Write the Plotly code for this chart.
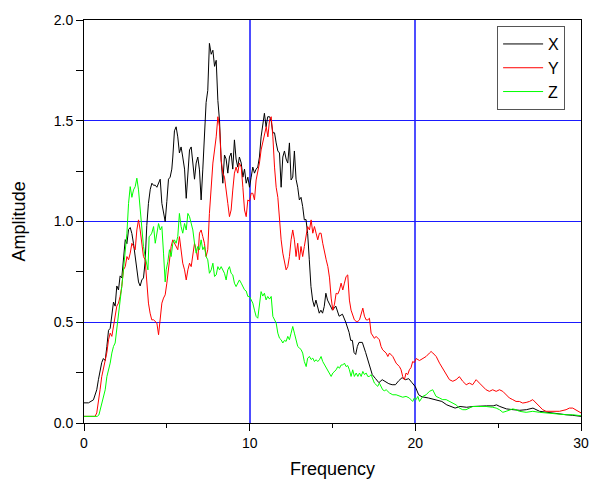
import plotly.graph_objects as go

# ---------------- data ----------------
x_freq = [0, 0.27, 0.57, 0.77, 0.87, 1.07, 1.17, 1.28, 1.38, 1.48, 1.58, 1.68, 1.78, 1.88, 1.98,
          2.08, 2.18, 2.28, 2.38, 2.49, 2.59, 2.69, 2.79, 2.89, 2.99, 3.09, 3.19, 3.29, 3.39, 3.49,
          3.59, 3.69, 3.79, 3.89, 4.0, 4.1, 4.19, 4.3, 4.4, 4.5, 4.6, 4.7, 4.8, 4.9, 5.0, 5.1, 5.2,
          5.3, 5.36, 5.46, 5.56, 5.66, 5.76, 5.86, 5.96, 6.07, 6.17, 6.27, 6.37, 6.47, 6.57, 6.67,
          6.77, 6.87, 6.97, 7.07, 7.17, 7.27, 7.37, 7.47, 7.57, 7.68, 7.78, 7.88, 7.98, 8.08, 8.18,
          8.28, 8.38, 8.48, 8.58, 8.68, 8.78, 8.88, 8.98, 9.08, 9.18, 9.28, 9.38, 9.49, 9.59, 9.69,
          9.79, 9.89, 9.99, 10.09, 10.19, 10.29, 10.39, 10.49, 10.59, 10.69, 10.79, 10.89, 10.99,
          11.09, 11.2, 11.3, 11.4, 11.5, 11.6, 11.7, 11.8, 11.9, 12.0, 12.1, 12.2, 12.3, 12.4, 12.5,
          12.6, 12.7, 12.8, 12.9, 13.0, 13.1, 13.2, 13.3, 13.4, 13.5, 13.6, 13.7, 13.8, 13.9, 14.0,
          14.1, 14.2, 14.3, 14.4, 14.5, 14.6, 14.7, 14.8, 14.9, 15.0, 15.2, 15.4, 15.6, 15.8, 16.0,
          16.1, 16.2, 16.3, 16.4, 16.5, 16.6, 16.8, 17.0, 17.2, 17.4, 17.6, 17.8, 18.0, 18.2, 18.4,
          18.6, 18.8, 19.0, 19.2, 19.4, 19.6, 19.8, 20.0, 20.2, 20.4, 20.8, 21.2, 21.6, 21.9, 22.1,
          22.4, 22.7, 23.1, 23.5, 23.9, 24.3, 24.7, 24.9, 25.1, 25.5, 25.9, 26.3, 26.7, 27.1, 27.5,
          27.9, 28.3, 28.7, 29.1, 29.5, 30.0]
x_amp = [0.10, 0.10, 0.115, 0.165, 0.215, 0.30, 0.32, 0.31, 0.38, 0.46, 0.47, 0.545, 0.60, 0.58,
         0.68, 0.66, 0.73, 0.72, 0.81, 0.91, 0.89, 0.96, 0.97, 0.94, 0.89, 0.83, 0.75, 0.70, 0.68,
         0.71, 0.72, 0.80, 0.98, 1.09, 1.16, 1.19, 1.18, 1.18, 1.17, 1.19, 1.21, 1.09, 1.05, 1.00,
         1.10, 1.21, 1.22, 1.26, 1.32, 1.45, 1.47, 1.42, 1.34, 1.37, 1.32, 1.26, 1.115, 1.22, 1.355,
         1.37, 1.27, 1.21, 1.29, 1.32, 1.256, 1.107, 1.256, 1.42, 1.59, 1.65, 1.884, 1.83, 1.85,
         1.77, 1.80, 1.60, 1.50, 1.305, 1.19, 1.33, 1.31, 1.24, 1.32, 1.34, 1.26, 1.405, 1.31, 1.27,
         1.32, 1.29, 1.22, 1.26, 1.19, 1.22, 1.17, 1.22, 1.27, 1.24, 1.26, 1.27, 1.32, 1.42, 1.487,
         1.537, 1.47, 1.52, 1.52, 1.50, 1.44, 1.44, 1.39, 1.35, 1.34, 1.17, 1.32, 1.35, 1.31, 1.29,
         1.39, 1.206, 1.22, 1.35, 1.21, 1.17, 1.107, 1.12, 1.074, 1.008, 1.01, 0.94, 0.81, 0.677,
         0.61, 0.578, 0.61, 0.578, 0.545, 0.56, 0.545, 0.578, 0.644, 0.61, 0.595, 0.58, 0.56, 0.58,
         0.53, 0.54, 0.50, 0.45, 0.41, 0.41, 0.35, 0.34, 0.38, 0.40, 0.40, 0.35, 0.30, 0.24, 0.22,
         0.20, 0.215, 0.205, 0.195, 0.19, 0.19, 0.21, 0.225, 0.215, 0.22, 0.20, 0.18, 0.14, 0.13,
         0.124, 0.116, 0.107, 0.09, 0.082, 0.074, 0.082, 0.078, 0.082, 0.085, 0.085, 0.085, 0.09,
         0.082, 0.07, 0.066, 0.063, 0.066, 0.074, 0.058, 0.053, 0.05, 0.046, 0.041, 0.038, 0.033]

y_freq = [0, 0.67, 0.77, 0.87, 0.97, 1.07, 1.17, 1.28, 1.38, 1.48, 1.58, 1.68, 1.78, 1.88, 1.98,
          2.08, 2.18, 2.28, 2.38, 2.49, 2.59, 2.69, 2.79, 2.89, 2.99, 3.09, 3.19, 3.29, 3.39, 3.49,
          3.59, 3.69, 3.79, 3.89, 3.99, 4.09, 4.2, 4.3, 4.4, 4.5, 4.6, 4.7, 4.8, 4.9, 5.0, 5.1, 5.16,
          5.26, 5.36, 5.46, 5.56, 5.66, 5.76, 5.86, 5.96, 6.07, 6.17, 6.27, 6.37, 6.47, 6.57, 6.67,
          6.77, 6.87, 6.97, 7.07, 7.17, 7.27, 7.37, 7.47, 7.57, 7.68, 7.78, 7.88, 7.98, 8.08, 8.18,
          8.28, 8.38, 8.48, 8.58, 8.68, 8.78, 8.88, 8.98, 9.08, 9.18, 9.28, 9.38, 9.49, 9.59, 9.69,
          9.79, 9.89, 9.99, 10.09, 10.19, 10.29, 10.39, 10.49, 10.59, 10.69, 10.79, 10.89, 11.0,
          11.1, 11.2, 11.3, 11.4, 11.5, 11.6, 11.7, 11.8, 11.9, 12.0, 12.1, 12.2, 12.3, 12.4, 12.5,
          12.6, 12.7, 12.8, 12.9, 13.0, 13.1, 13.2, 13.3, 13.41, 13.5, 13.61, 13.71, 13.81, 13.91,
          14.01, 14.11, 14.21, 14.31, 14.41, 14.51, 14.62, 14.72, 14.82, 14.92, 15.02, 15.12, 15.22,
          15.32, 15.42, 15.52, 15.62, 15.72, 15.82, 15.92, 16.02, 16.12, 16.22, 16.32, 16.43, 16.53,
          16.63, 16.73, 16.83, 16.93, 17.03, 17.13, 17.23, 17.33, 17.43, 17.53, 17.63, 17.73, 17.83,
          17.93, 18.03, 18.24, 18.34, 18.44, 18.54, 18.64, 18.84, 19.04, 19.14, 19.24, 19.34, 19.44,
          19.54, 19.64, 19.74, 19.84, 19.94, 20.05, 20.25, 20.45, 20.65, 20.85, 20.95, 21.05, 21.26,
          21.46, 21.65, 21.86, 22.06, 22.26, 22.46, 22.66, 22.76, 22.86, 23.07, 23.26, 23.46, 23.67,
          23.87, 24.07, 24.27, 24.47, 24.67, 24.88, 25.08, 25.28, 25.48, 25.68, 25.88, 26.08, 26.28,
          26.48, 26.69, 26.89, 27.09, 27.29, 27.49, 27.69, 27.89, 28.29, 28.7, 29.1, 29.3, 29.5,
          29.7, 30.0]
y_amp = [0.033, 0.033, 0.05, 0.10, 0.165, 0.23, 0.265, 0.314, 0.35, 0.413, 0.446, 0.43, 0.48,
         0.529, 0.58, 0.595, 0.628, 0.677, 0.76, 0.776, 0.826, 0.81, 0.843, 0.892, 0.876, 0.86,
         0.958, 1.008, 0.958, 0.892, 0.826, 0.81, 0.71, 0.595, 0.545, 0.512, 0.512, 0.504, 0.496,
         0.438, 0.53, 0.595, 0.62, 0.636, 0.694, 0.76, 0.81, 0.876, 0.909, 0.892, 0.876, 0.86, 0.925,
         0.86, 0.793, 0.76, 0.71, 0.76, 0.793, 0.776, 0.826, 0.892, 0.86, 0.81, 0.942, 0.958, 0.925,
         0.892, 0.826, 0.86, 1.04, 1.19, 1.29, 1.355, 1.42, 1.52, 1.47, 1.305, 1.24, 1.22, 1.14,
         1.09, 1.024, 1.057, 1.156, 1.24, 1.27, 1.24, 1.29, 1.27, 1.17, 1.057, 1.024, 1.107, 1.10,
         1.14, 1.14, 1.107, 1.206, 1.24, 1.29, 1.355, 1.39, 1.44, 1.47, 1.42, 1.504, 1.52, 1.42,
         1.27, 1.17, 1.12, 1.008, 0.909, 0.843, 0.793, 0.76, 0.776, 0.826, 0.909, 0.958, 0.909,
         0.826, 0.892, 0.81, 0.876, 0.826, 0.876, 0.942, 0.975, 0.958, 1.008, 0.942, 0.975, 0.942,
         0.909, 0.942, 0.942, 0.892, 0.86, 0.81, 0.776, 0.72, 0.62, 0.56, 0.59, 0.644, 0.64, 0.66,
         0.694, 0.66, 0.694, 0.727, 0.735, 0.61, 0.56, 0.529, 0.512, 0.504, 0.504, 0.512, 0.545,
         0.57, 0.53, 0.512, 0.512, 0.52, 0.446, 0.43, 0.42, 0.43, 0.42, 0.413, 0.38, 0.363, 0.347,
         0.33, 0.347, 0.34, 0.33, 0.297, 0.28, 0.264, 0.23, 0.215, 0.248, 0.24, 0.264, 0.275, 0.305,
         0.30, 0.32, 0.31, 0.322, 0.33, 0.347, 0.355, 0.348, 0.33, 0.297, 0.272, 0.248, 0.215,
         0.207, 0.215, 0.23, 0.215, 0.207, 0.19, 0.198, 0.19, 0.215, 0.198, 0.182, 0.165, 0.157,
         0.165, 0.157, 0.165, 0.157, 0.14, 0.124, 0.116, 0.107, 0.107, 0.099, 0.102, 0.107, 0.116,
         0.099, 0.082, 0.066, 0.058, 0.058, 0.058, 0.066, 0.074, 0.074, 0.066, 0.05]

z_freq = [0, 0.8, 0.9, 0.97, 1.07, 1.18, 1.28, 1.38, 1.48, 1.58, 1.68, 1.78, 1.88, 1.98, 2.08,
          2.18, 2.28, 2.38, 2.49, 2.59, 2.69, 2.79, 2.89, 2.99, 3.09, 3.19, 3.29, 3.39, 3.49, 3.59,
          3.69, 3.79, 3.86, 3.93, 4.0, 4.09, 4.2, 4.3, 4.4, 4.5, 4.6, 4.7, 4.8, 4.9, 4.96, 5.06,
          5.16, 5.26, 5.36, 5.46, 5.56, 5.66, 5.76, 5.86, 5.96, 6.07, 6.17, 6.27, 6.37, 6.47, 6.57,
          6.67, 6.77, 6.87, 6.97, 7.07, 7.17, 7.27, 7.37, 7.47, 7.57, 7.68, 7.78, 7.88, 7.98, 8.08,
          8.18, 8.28, 8.38, 8.48, 8.58, 8.68, 8.78, 8.88, 8.98, 9.08, 9.18, 9.28, 9.38, 9.49, 9.59,
          9.69, 9.79, 9.89, 9.99, 10.09, 10.19, 10.29, 10.39, 10.49, 10.59, 10.69, 10.79, 10.89,
          10.99, 11.09, 11.2, 11.3, 11.4, 11.5, 11.6, 11.7, 11.8, 11.9, 12.0, 12.1, 12.2, 12.3, 12.4,
          12.5, 12.6, 12.7, 12.8, 12.9, 13.0, 13.1, 13.2, 13.3, 13.41, 13.5, 13.61, 13.71, 13.81,
          13.91, 14.01, 14.11, 14.21, 14.31, 14.41, 14.51, 14.62, 14.72, 14.82, 14.92, 15.02, 15.12,
          15.22, 15.32, 15.42, 15.52, 15.62, 15.72, 15.82, 15.92, 16.02, 16.12, 16.22, 16.32, 16.43,
          16.53, 16.63, 16.73, 16.83, 16.93, 17.03, 17.13, 17.23, 17.33, 17.43, 17.53, 17.63, 17.73,
          17.83, 17.93, 18.03, 18.13, 18.24, 18.44, 18.64, 18.84, 19.04, 19.24, 19.44, 19.64, 19.84,
          19.94, 20.05, 20.15, 20.25, 20.45, 20.65, 20.85, 21.05, 21.15, 21.25, 21.46, 21.65, 21.86,
          22.06, 22.26, 22.46, 22.66, 22.86, 23.06, 23.26, 23.46, 23.87, 24.27, 24.67, 24.88, 25.08,
          25.28, 25.48, 25.68, 25.88, 26.08, 26.28, 26.69, 27.09, 27.49, 27.89, 28.29, 28.7, 29.1,
          29.5, 30.0]
z_amp = [0.033, 0.033, 0.04, 0.066, 0.10, 0.132, 0.165, 0.23, 0.264, 0.297, 0.347, 0.38, 0.397,
         0.463, 0.529, 0.595, 0.677, 0.76, 0.86, 0.942, 1.09, 1.173, 1.12, 1.157, 1.173, 1.215,
         1.157, 1.058, 0.975, 0.876, 0.826, 0.776, 0.76, 0.925, 0.93, 0.942, 0.975, 0.892, 0.942,
         0.99, 0.958, 0.975, 0.843, 0.70, 0.76, 0.80, 0.86, 0.826, 0.892, 0.909, 0.892, 0.925, 1.04,
         0.975, 0.942, 0.99, 0.958, 1.04, 1.024, 0.99, 0.958, 0.892, 0.843, 0.876, 0.86, 0.909,
         0.86, 0.876, 0.826, 0.81, 0.743, 0.76, 0.793, 0.727, 0.735, 0.776, 0.76, 0.776, 0.76,
         0.743, 0.71, 0.76, 0.776, 0.743, 0.735, 0.694, 0.677, 0.694, 0.71, 0.694, 0.68, 0.661,
         0.655, 0.628, 0.628, 0.61, 0.595, 0.56, 0.529, 0.52, 0.578, 0.652, 0.63, 0.644, 0.611,
         0.628, 0.615, 0.628, 0.529, 0.512, 0.496, 0.446, 0.421, 0.413, 0.397, 0.41, 0.405, 0.43,
         0.413, 0.446, 0.479, 0.446, 0.413, 0.38, 0.372, 0.365, 0.347, 0.305, 0.28, 0.322, 0.33,
         0.315, 0.322, 0.305, 0.314, 0.305, 0.314, 0.33, 0.305, 0.29, 0.28, 0.264, 0.248, 0.231,
         0.248, 0.255, 0.264, 0.28, 0.272, 0.288, 0.288, 0.297, 0.28, 0.285, 0.264, 0.231, 0.264,
         0.231, 0.248, 0.231, 0.248, 0.231, 0.256, 0.24, 0.248, 0.231, 0.231, 0.24, 0.215, 0.198,
         0.19, 0.182, 0.198, 0.182, 0.165, 0.16, 0.165, 0.149, 0.14, 0.14, 0.132, 0.128, 0.132,
         0.124, 0.107, 0.124, 0.116, 0.132, 0.107, 0.132, 0.14, 0.157, 0.165, 0.15, 0.132, 0.124,
         0.116, 0.116, 0.107, 0.099, 0.09, 0.074, 0.066, 0.066, 0.074, 0.082, 0.082, 0.082, 0.078,
         0.074, 0.066, 0.053, 0.058, 0.066, 0.07, 0.066, 0.058, 0.053, 0.058, 0.053, 0.05, 0.046,
         0.041, 0.041, 0.041, 0.036]

series_names = ["X", "Y", "Z"]
series_colors = ["#000000", "#ff0000", "#00ff00"]
x_ticks = [0, 10, 20, 30]
y_ticks = [0.0, 0.5, 1.0, 1.5, 2.0]
y_ticklabels = ["0.0", "0.5", "1.0", "1.5", "2.0"]
x_title = "Frequency"
y_title = "Amplitude"

FONT = "Arial, 'Liberation Sans', sans-serif"

fig = go.Figure()
for name, fx, fy, col in zip(series_names, [x_freq, y_freq, z_freq],
                             [x_amp, y_amp, z_amp], series_colors):
    fig.add_trace(go.Scatter(x=fx, y=fy, mode="lines", name=name,
                             line=dict(color=col, width=1)))

axis_common = dict(
    showline=True, linecolor="black", linewidth=1, mirror=True,
    ticks="outside", tickcolor="black", tickwidth=1,
    showgrid=True,
    zeroline=False, automargin=False,
    tickfont=dict(family=FONT, size=14, color="black"),
)

fig.update_layout(
    width=589, height=479,
    margin=dict(l=84, r=8, t=20, b=56, autoexpand=False),
    paper_bgcolor="white", plot_bgcolor="white",
    font=dict(family=FONT, color="black"),
    showlegend=True,
    hovermode=False,
    legend=dict(x=0.968, y=0.985, xanchor="right", yanchor="top",
                bgcolor="white", bordercolor="#555555", borderwidth=1,
                font=dict(family=FONT, size=16, color="black"),
                tracegroupgap=0, itemwidth=40),
    xaxis=dict(range=[0, 30], tickvals=x_ticks, ticklen=7,
               gridcolor="#4d4dff", gridwidth=2,
               minor=dict(dtick=5, tick0=0, ticklen=4, ticks="outside", tickcolor="black",
                          showgrid=False),
               **axis_common),
    yaxis=dict(range=[0, 2], tickvals=y_ticks, ticktext=y_ticklabels, ticklen=7,
               gridcolor="#1a1aff", gridwidth=1,
               minor=dict(dtick=0.25, tick0=0, ticklen=7, ticks="outside", tickcolor="black",
                          showgrid=False),
               **axis_common),
    annotations=[
        dict(text=x_title, xref="paper", yref="paper", x=0.5, y=-0.115,
             xanchor="center", yanchor="middle", showarrow=False,
             font=dict(family=FONT, size=18, color="black")),
        dict(text=y_title, xref="paper", yref="paper", x=-0.131, y=0.5,
             xanchor="center", yanchor="middle", textangle=-90, showarrow=False,
             font=dict(family=FONT, size=18, color="black")),
    ],
)

# the page body normally has an 8px margin; remove it so the 589x479 figure fills the window
fig.write_html("out.html",
               config={"displayModeBar": False, "staticPlot": True},
               post_script="document.body.style.margin='0px';"
                           "document.body.style.overflow='hidden';")
